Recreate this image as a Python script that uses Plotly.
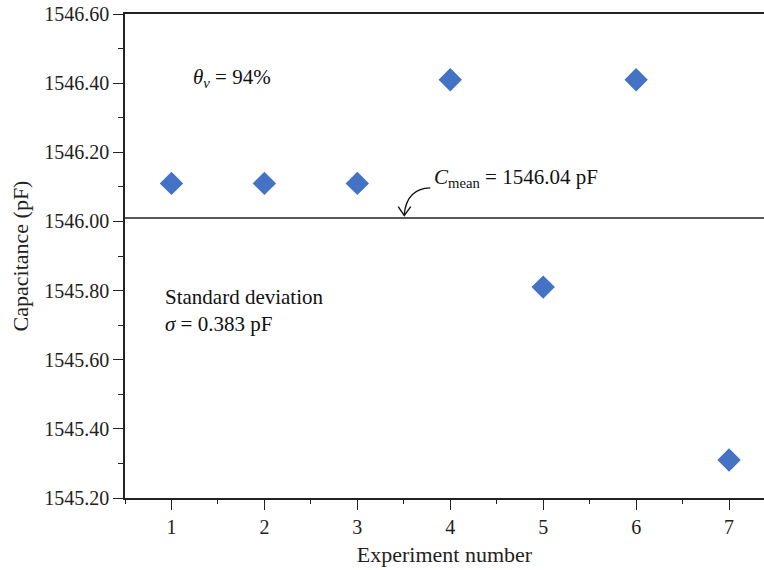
import plotly.graph_objects as go

experiments = [1, 2, 3, 4, 5, 6, 7]
capacitance = [1546.11, 1546.11, 1546.11, 1546.41, 1545.81, 1546.41, 1545.31]
mean_line_value = 1546.01
y_ticks = [1545.20, 1545.40, 1545.60, 1545.80, 1546.00, 1546.20, 1546.40, 1546.60]
y_tick_labels = [f"{v:.2f}" for v in y_ticks]
x_ticks = [1, 2, 3, 4, 5, 6, 7]

FONT = "Liberation Serif"
BLUE = "#4472C4"

fig = go.Figure()
fig.add_trace(go.Scatter(
    x=experiments, y=capacitance, mode="markers",
    marker=dict(symbol="diamond", size=18, color=BLUE, line=dict(width=0)),
    showlegend=False, cliponaxis=False,
))

# mean line
fig.add_shape(type="line", xref="paper", x0=0, x1=1, yref="y",
              y0=mean_line_value, y1=mean_line_value,
              line=dict(color="#222222", width=1.5))

# curved arrow
fig.add_shape(type="path", xref="x", yref="y",
              path="M 3.785,1546.097 Q 3.53,1546.095 3.505,1546.02",
              line=dict(color="#111111", width=1.4))
fig.add_shape(type="path", xref="x", yref="y",
              path="M 3.44,1546.043 L 3.505,1546.017 L 3.575,1546.043",
              line=dict(color="#111111", width=1.4))

ANN_FONT = dict(family=FONT, size=21, color="#111111")
fig.add_annotation(x=1.215, y=1546.415, xref="x", yref="y", xanchor="left", yanchor="middle",
                   text="<i>θ</i><sub><i>ν</i></sub> = 94%", showarrow=False, font=ANN_FONT)
fig.add_annotation(x=3.80, y=1546.126, xref="x", yref="y", xanchor="left", yanchor="middle",
                   text="<i>C</i><sub>mean</sub> = 1546.04 pF", showarrow=False, font=ANN_FONT)
fig.add_annotation(x=0.914, y=1545.741, xref="x", yref="y", xanchor="left", yanchor="middle",
                   align="left",
                   text="Standard deviation<br><i>σ</i> = 0.383 pF", showarrow=False, font=ANN_FONT)

fig.update_layout(
    width=764, height=570,
    margin=dict(l=124.5, r=0, t=14, b=72),
    paper_bgcolor="white", plot_bgcolor="white",
    font=dict(family=FONT, size=20, color="#222222"),
    showlegend=False,
)
fig.update_xaxes(
    range=[0.5, 7.376], tickvals=x_ticks, ticktext=[str(v) for v in x_ticks],
    showgrid=False, zeroline=False,
    showline=True, linecolor="#222222", linewidth=1.5, mirror=True,
    ticks="outside", ticklen=10, tickwidth=1.3, tickcolor="#222222",
    minor=dict(tickvals=[0.5, 1.5, 2.5, 3.5, 4.5, 5.5, 6.5], ticks="outside",
               ticklen=4, tickwidth=1.3, tickcolor="#222222", showgrid=False),
    tickfont=dict(family=FONT, size=20, color="#222222"),
    title=dict(text="Experiment number", font=dict(family=FONT, size=22, color="#222222"), standoff=10),
)
fig.update_yaxes(
    range=[1545.20, 1546.60], tickvals=y_ticks, ticktext=y_tick_labels,
    showgrid=False, zeroline=False,
    showline=True, linecolor="#222222", linewidth=1.5,
    ticks="outside", ticklen=10, tickwidth=1.3, tickcolor="#222222",
    minor=dict(tickvals=[1545.3, 1545.5, 1545.7, 1545.9, 1546.1, 1546.3, 1546.5], ticks="outside",
               ticklen=5, tickwidth=1.3, tickcolor="#222222", showgrid=False),
    tickfont=dict(family=FONT, size=20, color="#222222"),
    title=dict(text="Capacitance (pF)", font=dict(family=FONT, size=22, color="#222222"), standoff=10),
)

fig.write_html("out.html")
